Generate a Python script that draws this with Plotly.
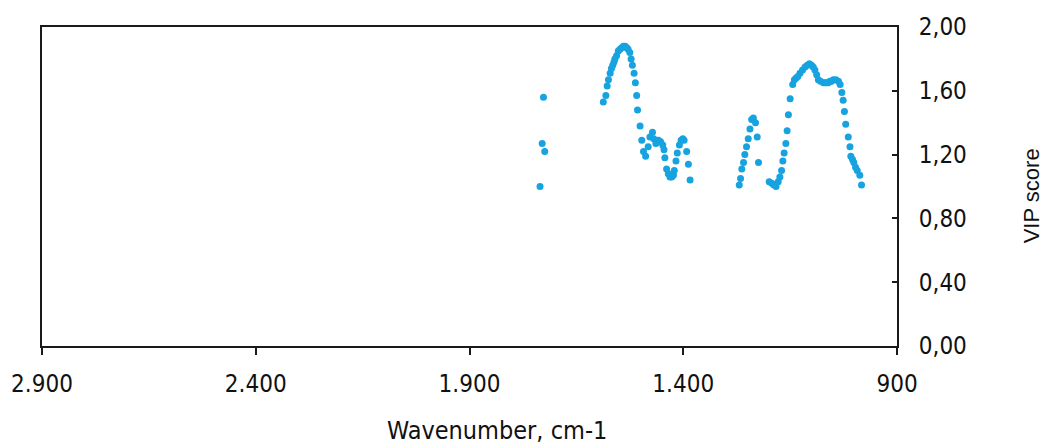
import plotly.graph_objects as go

# Wavenumber (cm-1) and VIP score
wavenumber = [
    1735, 1730, 1727, 1724,
    1587, 1581, 1578, 1575, 1571, 1568, 1565, 1562, 1560, 1556, 1552, 1548,
    1544, 1540, 1536, 1532, 1529, 1525, 1522, 1519, 1515, 1512, 1509, 1507,
    1501, 1497, 1493, 1488, 1482, 1478, 1472, 1469, 1464, 1458, 1453, 1448,
    1445, 1443, 1439, 1435, 1431, 1427, 1423, 1421, 1417, 1414, 1409, 1405,
    1401, 1398, 1392, 1388, 1384,
    1269, 1266, 1263, 1259, 1256, 1252, 1248, 1244, 1240, 1236, 1231, 1227, 1224,
    1199, 1193, 1188, 1183, 1178, 1174, 1170, 1167, 1164, 1160, 1157, 1154,
    1150, 1144, 1140, 1136, 1132, 1127, 1121, 1115, 1110, 1105, 1100, 1096,
    1092, 1088, 1084, 1079, 1072, 1068, 1065, 1061, 1057, 1053, 1049, 1043,
    1037, 1033, 1029, 1026, 1023, 1020, 1014, 1010, 1008, 1004, 1001, 997,
    993, 987, 983,
]
vip_score = [
    1.00, 1.27, 1.56, 1.22,
    1.53, 1.57, 1.63, 1.67, 1.71, 1.74, 1.76, 1.78, 1.80, 1.82, 1.85, 1.86,
    1.87, 1.88, 1.88, 1.87, 1.86, 1.84, 1.80, 1.76, 1.71, 1.65, 1.57, 1.48,
    1.38, 1.29, 1.22, 1.19, 1.25, 1.31, 1.34, 1.30, 1.27, 1.29, 1.28, 1.26,
    1.23, 1.18, 1.11, 1.08, 1.06, 1.06, 1.07, 1.10, 1.16, 1.21, 1.26, 1.29,
    1.30, 1.29, 1.22, 1.14, 1.04,
    1.01, 1.05, 1.11, 1.15, 1.20, 1.25, 1.30, 1.36, 1.42, 1.43, 1.40, 1.31, 1.15,
    1.03, 1.02, 1.01, 1.00, 1.03, 1.06, 1.10, 1.16, 1.21, 1.27, 1.35, 1.45,
    1.55, 1.64, 1.67, 1.68, 1.69, 1.71, 1.73, 1.75, 1.76, 1.77, 1.76, 1.75,
    1.73, 1.70, 1.67, 1.66, 1.65, 1.65, 1.65, 1.65, 1.66, 1.66, 1.67, 1.67,
    1.66, 1.64, 1.59, 1.54, 1.47, 1.39, 1.31, 1.25, 1.19, 1.17, 1.15, 1.12,
    1.10, 1.07, 1.01,
]

x_tickvals = [2900, 2400, 1900, 1400, 900]
x_ticktext = ["2.900", "2.400", "1.900", "1.400", "900"]
y_tickvals = [0.0, 0.4, 0.8, 1.2, 1.6, 2.0]
y_ticktext = ["0,00", "0,40", "0,80", "1,20", "1,60", "2,00"]

tick_font = dict(family="DejaVu Sans Condensed, DejaVu Sans", size=24, color="#111")
line_col = "#1a1a1a"

fig = go.Figure()
fig.add_trace(go.Scatter(
    x=wavenumber, y=vip_score, mode="markers",
    marker=dict(size=7, color="rgb(22,163,224)", line=dict(width=0)),
    showlegend=False, hoverinfo="x+y",
))

fig.update_layout(
    width=1045, height=448,
    margin=dict(l=42, r=148, t=27, b=102, autoexpand=False),
    paper_bgcolor="white", plot_bgcolor="white",
    xaxis=dict(
        range=[2900, 900], tickvals=x_tickvals, ticktext=x_ticktext,
        showgrid=False, zeroline=False, automargin=False,
        showline=True, linecolor=line_col, linewidth=2, mirror=True,
        ticks="outside", ticklen=7, tickwidth=2, tickcolor=line_col,
        tickfont=tick_font, ticklabelstandoff=8,
    ),
    yaxis=dict(
        range=[0, 2], side="right", tickvals=y_tickvals, ticktext=y_ticktext,
        showgrid=False, zeroline=False, automargin=False,
        showline=True, linecolor=line_col, linewidth=2, mirror=True,
        ticks="inside", ticklen=5, tickwidth=2, tickcolor=line_col,
        tickfont=tick_font, ticklabelstandoff=15,
    ),
    annotations=[
        dict(text="Wavenumber, cm-1", xref="paper", yref="paper",
             x=0.532, y=-0.264, xanchor="center", yanchor="middle",
             showarrow=False, font=dict(family="DejaVu Sans Condensed, DejaVu Sans", size=25, color="#111")),
        dict(text="VIP score", xref="paper", yref="paper",
             x=1.157, y=0.47, xanchor="center", yanchor="middle", textangle=-90,
             showarrow=False, font=dict(family="Liberation Sans, Arial", size=22, color="#111")),
    ],
)

fig.write_html("out.html", config={"displayModeBar": False},
               post_script="document.body.style.margin='0';document.body.style.overflow='hidden';")
